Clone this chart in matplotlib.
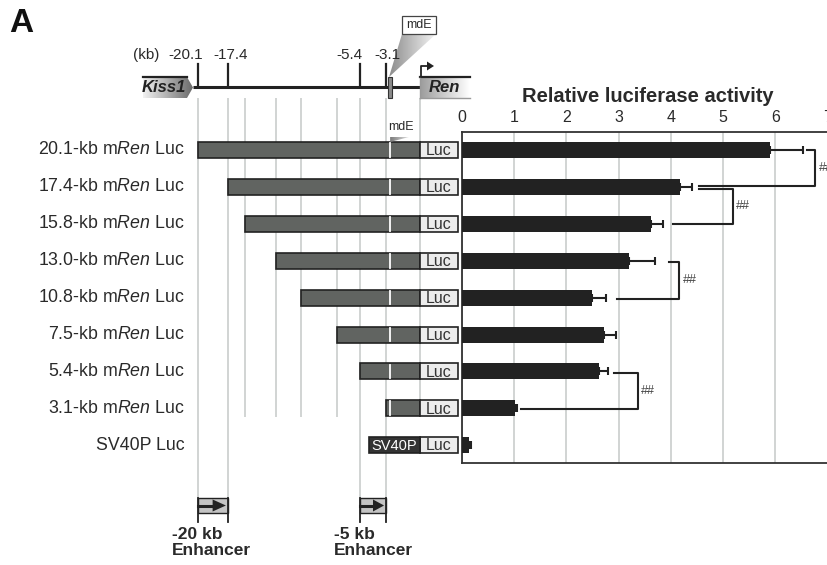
import numpy as np
import matplotlib
matplotlib.use("Agg")
import matplotlib.pyplot as plt
from matplotlib.patches import Polygon, Rectangle
from matplotlib.colors import LinearSegmentedColormap

plt.rcParams['font.family'] = ['Liberation Sans', 'DejaVu Sans']
plt.rcParams['mathtext.fontset'] = 'custom'
plt.rcParams['mathtext.rm'] = 'Liberation Sans'
plt.rcParams['mathtext.it'] = 'Liberation Sans:italic'

# data
constructs = ['20.1-kb', '17.4-kb', '15.8-kb', '13.0-kb', '10.8-kb', '7.5-kb', '5.4-kb', '3.1-kb']
start_kb = [-20.1, -17.4, -15.8, -13.0, -10.8, -7.5, -5.4, -3.1]
activity = [5.89, 4.17, 3.61, 3.20, 2.49, 2.72, 2.63, 1.02, 0.13]
sem = [0.64, 0.23, 0.23, 0.50, 0.26, 0.23, 0.16, 0.04, 0.05]
mdE_kb = -2.7
map_ticks = [-20.1, -17.4, -5.4, -3.1]
map_tick_labels = ['-20.1', '-17.4', '-5.4', '-3.1']
map_label_px = [186, 231, 349, 387]
long_lines = [-20.1, -17.4, -5.4, -3.1]
enh_start = [-20.1, -5.4]
enh_end = [-17.4, -3.1]
enh_labels = ['-20 kb\nEnhancer', '-5 kb\nEnhancer']
# significance brackets (rows compared, x positions in activity units)
brk_top = [0.0, 1.06, 3.03, 6.04]
brk_bot = [0.97, 2.0, 4.04, 7.01]
brk_x_top = [6.60, 4.53, 3.97, 2.90]
brk_x_bot = [4.53, 4.04, 2.96, 1.13]
brk_x = [6.76, 5.18, 4.15, 3.36]

W, H = 828, 565
KB = 11.06      # px per kb
X0 = 420        # px of 0 kb
Y0, DY = 150, 36.9  # px of first row, px per row
def r(ypx):
    return (ypx - Y0) / DY
def k(xpx):
    return (xpx - X0) / KB

dark = '#222222'
txt = '#2a2a2a'
fig = plt.figure(figsize=(W / 100, H / 100), dpi=100)
ax = fig.add_axes([0, 0, 1, 1])
ax.set_xlim(k(0), k(W))
ax.set_ylim(r(H), r(0))
ax.axis('off')

def grad(verts, c0, c1, z=3):
    poly = Polygon(verts, closed=True, facecolor='none', edgecolor='none')
    ax.add_patch(poly)
    xs = [v[0] for v in verts]
    ys = [v[1] for v in verts]
    cm = LinearSegmentedColormap.from_list('g', [c0, c1])
    im = ax.imshow(np.linspace(0, 1, 256).reshape(1, -1), cmap=cm, aspect='auto',
                   extent=[min(xs), max(xs), max(ys), min(ys)], interpolation='bilinear', zorder=z)
    im.set_clip_path(poly)

n = len(constructs)
rows = np.arange(n + 1)
bh = 16 / DY

# gray guide lines
for x in start_kb + [0]:
    bottom = r(498) if x in long_lines else r(417)
    ax.plot([x, x], [r(98), bottom], color='#c9cdcc', lw=1.2, zorder=1, solid_capstyle='butt')

# genomic map
ax.plot([k(193), 0], [r(87), r(87)], color=dark, lw=2.2, zorder=4, solid_capstyle='butt')
for x, lab, lx in zip(map_ticks, map_tick_labels, map_label_px):
    ax.plot([x, x], [r(64), r(87)], color=dark, lw=1.6, zorder=4)
    ax.text(k(lx), r(55), lab, ha='center', va='center', fontsize=11, color=txt)
ax.text(k(146), r(55), '(kb)', ha='center', va='center', fontsize=11, color=txt)

kv = [(k(143), r(77)), (k(187), r(77)), (k(193), r(87.5)), (k(187), r(98)), (k(143), r(98))]
grad(kv, '#f2f2f2', '#6a6a6a')
ax.plot([k(143), k(187)], [r(77), r(77)], color=dark, lw=1.6, zorder=5)
ax.text(k(164), r(88), 'Kiss1', ha='center', va='center', fontsize=12, fontweight='bold',
        fontstyle='italic', color=dark, zorder=6)

rv = [(0, r(77)), (k(470), r(77)), (k(470), r(98)), (0, r(98))]
grad(rv, '#9c9c9c', '#ffffff')
ax.plot([0, k(470)], [r(77), r(77)], color=dark, lw=1.6, zorder=5)
ax.plot([0, k(470)], [r(98), r(98)], color='#9a9a9a', lw=1.0, zorder=5)
ax.plot([0, 0], [r(77), r(98)], color='#9a9a9a', lw=1.0, zorder=5)
ax.text(k(444), r(88), 'Ren', ha='center', va='center', fontsize=12, fontweight='bold',
        fontstyle='italic', color=dark, zorder=6)
ax.plot([k(421), k(421), k(428)], [r(77), r(66), r(66)], color=dark, lw=1.3, zorder=5)
ax.add_patch(Polygon([(k(427), r(61.5)), (k(434), r(66)), (k(427), r(70.5))], closed=True,
                     facecolor=dark, edgecolor='none', zorder=5))

# mdE element + callout
ax.add_patch(Rectangle((k(388), r(77)), k(392) - k(388), r(98) - r(77), facecolor='#8a8a8a',
                       edgecolor='#333333', lw=0.8, zorder=6))
grad([(k(402), r(34)), (k(436), r(34)), (mdE_kb - 0.1, r(77))], '#8c8c8c', '#f4f4f4', z=2)
ax.add_patch(Rectangle((k(402), r(16)), k(436) - k(402), r(34) - r(16), facecolor='white',
                       edgecolor='#444444', lw=0.9, zorder=6))
ax.text(k(419), r(25.5), 'mdE', ha='center', va='center', fontsize=9, color=txt, zorder=7)

# constructs
luc_w = k(458)
for i in range(n):
    ax.add_patch(Rectangle((start_kb[i], i - bh / 2), -start_kb[i], bh, facecolor='#616461',
                           edgecolor=dark, lw=1.2, zorder=3))
    ax.plot([mdE_kb, mdE_kb], [i - bh / 2 + 0.03, i + bh / 2 - 0.03], color='white', lw=1.3, zorder=4)
    ax.text(k(185), i, constructs[i] + ' m$\\mathit{Ren}$ Luc', ha='right', va='center',
            fontsize=12.8, color=txt)
for i in range(n + 1):
    ax.add_patch(Rectangle((0, i - bh / 2), luc_w, bh, facecolor='#ececec', edgecolor=dark,
                           lw=1.2, zorder=3))
    ax.text(luc_w / 2, i + 0.02, 'Luc', ha='center', va='center', fontsize=11.5, color='#333333', zorder=4)
ax.add_patch(Rectangle((k(369), n - bh / 2), -k(369), bh, facecolor='#333333', edgecolor=dark,
                       lw=1.2, zorder=3))
ax.text(k(369) / 2, n + 0.02, 'SV40P', ha='center', va='center', fontsize=10.5, color='white', zorder=4)
ax.text(k(185), n, 'SV40P Luc', ha='right', va='center', fontsize=12.8, color=txt)

ax.text(k(401), r(127.5), 'mdE', ha='center', va='center', fontsize=9, color=txt)
grad([(mdE_kb, r(137)), (k(409), r(137)), (mdE_kb, r(142))], '#7a7a7a', '#e0e0e0', z=4)

# enhancers
for s, e, lab in zip(enh_start, enh_end, enh_labels):
    ax.add_patch(Rectangle((s, r(498)), e - s, r(513) - r(498), facecolor='#c4c4c4',
                           edgecolor=dark, lw=1.0, zorder=3))
    ax.plot([s, s + (e - s) * 0.55], [r(505.5), r(505.5)], color=dark, lw=2.2, zorder=4)
    ax.add_patch(Polygon([(s + (e - s) * 0.5, r(499.5)), (e - 0.15, r(505.5)),
                          (s + (e - s) * 0.5, r(511.5))], closed=True, facecolor=dark,
                         edgecolor='none', zorder=4))
    ax.plot([s, s], [r(498), r(522)], color=dark, lw=1.3, zorder=4)
    ax.plot([e, e], [r(498), r(522)], color=dark, lw=1.3, zorder=4)
    ax.text(s - k(198) + k(172), r(527), lab, ha='left', va='top', fontsize=12.5,
            fontweight='bold', color=txt, linespacing=1.05)

fig.text(9 / W, 1 - 24 / H, 'A', fontsize=24, fontweight='bold', color='#111111', va='center')

# luciferase bar chart
ax2 = fig.add_axes([462 / W, 1 - 463 / H, 365.7 / W, 331 / H])
ax2.set_facecolor('none')
ax2.barh(rows, activity, height=bh, color=dark, zorder=3)
ax2.errorbar(activity, rows, xerr=[np.zeros(len(sem)), sem], fmt='none', ecolor=dark,
             elinewidth=1.5, capsize=3, capthick=1.5, zorder=3)
for a, b, xa, xb, xv in zip(brk_top, brk_bot, brk_x_top, brk_x_bot, brk_x):
    ax2.plot([xa, xv, xv, xb], [a, a, b, b], color=dark, lw=1.5, zorder=3, clip_on=False)
    ax2.text(xv + 0.07, (a + b) / 2, '##', ha='left', va='center', fontsize=9,
             color='#444444', clip_on=False)
ax2.set_xlim(0, 7)
ax2.set_ylim(r(463), r(132))
ax2.xaxis.tick_top()
ax2.set_xticks(range(8))
ax2.tick_params(axis='x', length=0, pad=5, labelsize=11.5, labelcolor=txt)
ax2.set_yticks([])
ax2.grid(axis='x', color='#c9cdcc', lw=1.2, zorder=0)
for s in ['left', 'top', 'bottom']:
    ax2.spines[s].set_color('#333333')
    ax2.spines[s].set_linewidth(1.3)
ax2.spines['right'].set_visible(False)
fig.text(648 / W, 1 - 97 / H, 'Relative luciferase activity', ha='center', va='center',
         fontsize=14.5, fontweight='bold', color=txt)

fig.savefig('out.png', dpi=100)
